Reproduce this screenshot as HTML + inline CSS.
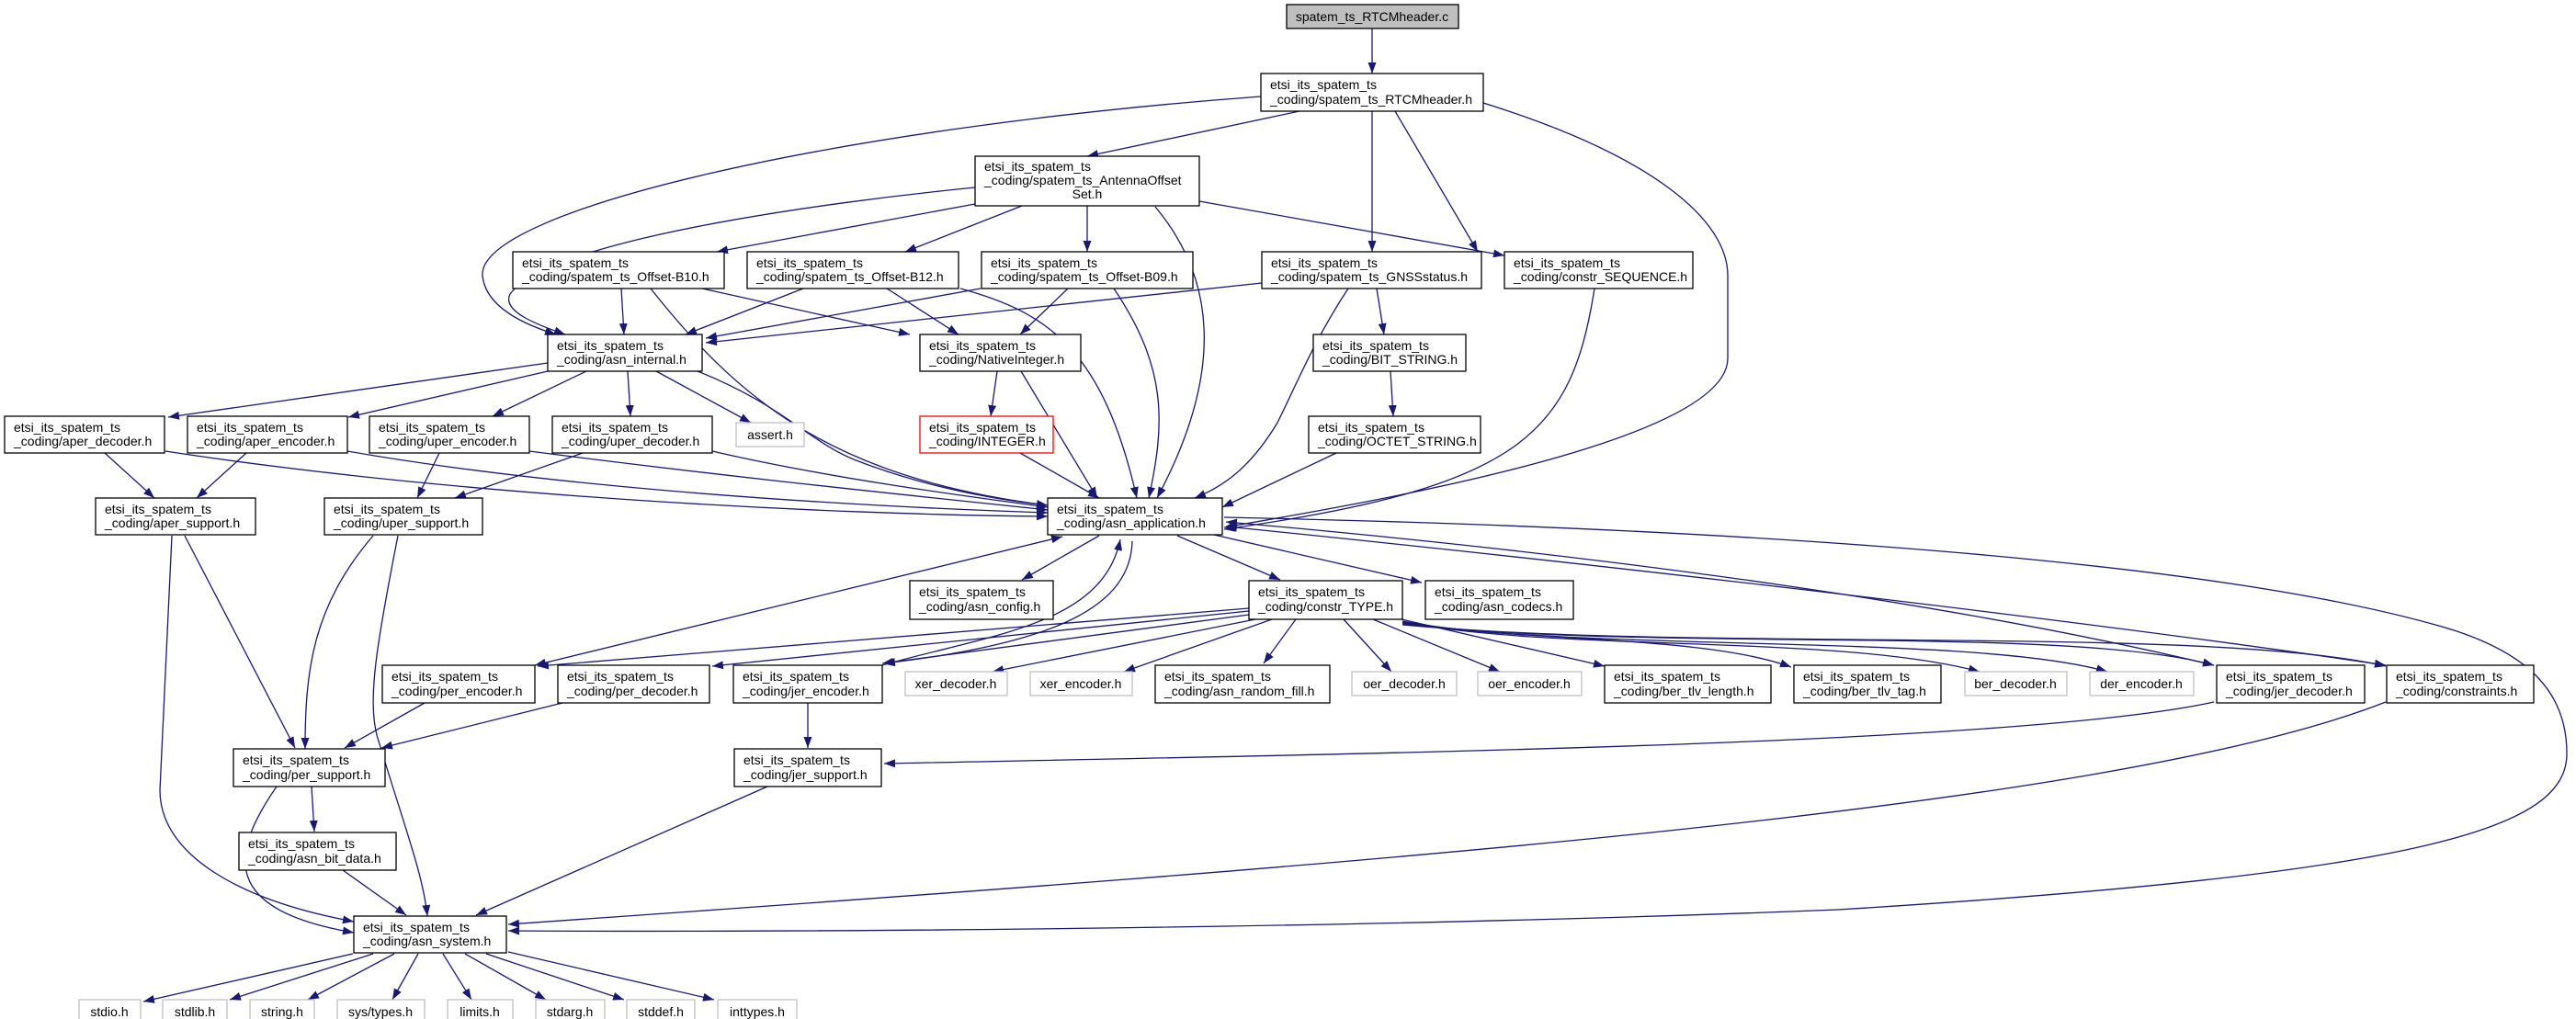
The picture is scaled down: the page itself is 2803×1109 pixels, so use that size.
<!DOCTYPE html>
<html><head><meta charset="utf-8"><style>
html,body{margin:0;padding:0;background:#fff}
svg{display:block}
.n{fill:#fff;stroke:#000;stroke-width:1.3}
.g{fill:#fff;stroke:#bfbfbf;stroke-width:1.3}
.r{fill:#fff;stroke:#ff0000;stroke-width:1.3}
text{font-family:"Liberation Sans",sans-serif;font-size:14px;fill:#000}
.e{fill:none;stroke:#191970;stroke-width:1.3;marker-end:url(#a)}
.b{marker-start:url(#s)}
</style></head><body>
<svg width="2803" height="1109" viewBox="0 0 2803 1109" xmlns="http://www.w3.org/2000/svg">
<defs>
<marker id="a" markerWidth="12" markerHeight="9" refX="12" refY="4.5" orient="auto" markerUnits="userSpaceOnUse"><path d="M0,0L12,4.5L0,9z" fill="#191970"/></marker>
<marker id="s" markerWidth="12" markerHeight="9" refX="0" refY="4.5" orient="auto" markerUnits="userSpaceOnUse"><path d="M12,0L0,4.5L12,9z" fill="#191970"/></marker>
</defs>
<path class="e" d="M1493,31L1493,80"/>
<path class="e" d="M1372,105C900,140 520,230 525,300C528,330 560,350 605,364"/>
<path class="e" d="M1414,121L1183,170"/>
<path class="e" d="M1493,121L1493,274"/>
<path class="e" d="M1518,121L1608,274"/>
<path class="e" d="M1614,112C1800,170 1880,240 1880,300L1880,390C1880,480 1500,545 1332,574"/>
<path class="e" d="M1061,204C900,220 600,260 555,320C545,340 590,355 615,364"/>
<path class="e" d="M1061,222L780,274"/>
<path class="e" d="M1112,224L985,274"/>
<path class="e" d="M1183,224L1183,274"/>
<path class="e" d="M1305,219L1637,278"/>
<path class="e" d="M1257,225C1320,300 1335,400 1259,542"/>
<path class="e" d="M676,314L679,364"/>
<path class="e" d="M708,314C800,430 900,520 1140,550"/>
<path class="e" d="M764,314L990,364"/>
<path class="e" d="M874,314L746,364"/>
<path class="e" d="M965,314L1043,364"/>
<path class="e" d="M1045,314C1140,340 1200,380 1237,542"/>
<path class="e" d="M1067,314L768,368"/>
<path class="e" d="M1162,314L1110,364"/>
<path class="e" d="M1212,314C1270,400 1268,460 1250,542"/>
<path class="e" d="M1373,308L768,373"/>
<path class="e" d="M1498,314L1506,364"/>
<path class="e" d="M1467,314C1430,370 1410,420 1390,460C1360,510 1330,530 1300,542"/>
<path class="e" d="M1735,314C1710,470 1660,530 1332,576"/>
<path class="e" d="M596,395L183,454"/>
<path class="e" d="M596,404L379,454"/>
<path class="e" d="M638,404L536,453"/>
<path class="e" d="M683,404L686,453"/>
<path class="e" d="M714,404L817,460"/>
<path class="e" d="M759,404C850,440 880,480 929,500C980,520 1050,540 1140,550"/>
<path class="e" d="M1085,404L1078,453"/>
<path class="e" d="M1111,404L1194,542"/>
<path class="e" d="M1110,493L1196,542"/>
<path class="e" d="M1513,404L1516,453"/>
<path class="e" d="M1454,493L1330,552"/>
<path class="e" d="M114,493L168,542"/>
<path class="e" d="M268,493L214,542"/>
<path class="e" d="M478,493L454,542"/>
<path class="e" d="M634,493L495,542"/>
<path class="e" d="M180,491C500,540 900,560 1140,562"/>
<path class="e" d="M378,491C600,530 900,550 1140,558"/>
<path class="e" d="M576,491C800,520 1000,540 1140,555"/>
<path class="e" d="M775,491C900,520 1050,540 1140,552"/>
<path class="e" d="M201,583L321,814"/>
<path class="e" d="M187,583L174,860C174,930 260,980 385,1003"/>
<path class="e" d="M406,583C340,660 332,730 332,815"/>
<path class="e" d="M433,583C410,700 400,760 410,800C440,900 460,950 465,997"/>
<path class="e" d="M1196,583L1112,631"/>
<path class="e" d="M1281,583L1393,631"/>
<path class="e" d="M1321,582L1547,634"/>
<path class="e" d="M1332,563C1900,575 2400,610 2650,680C2760,710 2793,760 2793,820C2793,900 2650,950 2000,990C1500,1010 900,1015 553,1013"/>
<path class="e b" d="M1334,568C1700,600 2100,650 2409,724"/>
<path class="e b" d="M1334,573C1800,620 2300,680 2596,724"/>
<path class="e b" d="M1156,584L582,724"/>
<path class="e" d="M1359,662L585,725"/>
<path class="e" d="M1359,665L775,725"/>
<path class="e" d="M1359,669L960,722"/>
<path class="e" d="M1366,674L1080,731"/>
<path class="e" d="M1384,674L1223,731"/>
<path class="e" d="M1410,674L1375,722"/>
<path class="e" d="M1462,674L1514,731"/>
<path class="e" d="M1494,674L1632,731"/>
<path class="e" d="M1525,674L1746,725"/>
<path class="e" d="M1526,676C1650,700 1850,690 1949,726"/>
<path class="e" d="M1526,677C1700,710 2000,690 2154,731"/>
<path class="e" d="M1526,678C1750,710 2150,690 2293,731"/>
<path class="e" d="M1526,679C1800,710 2250,680 2409,724"/>
<path class="e" d="M1526,680C1850,710 2400,680 2596,725"/>
<path class="e" d="M960,724C1080,690 1200,680 1219,587"/>
<path class="e" d="M1232,589C1230,660 1150,700 962,722"/>
<path class="e" d="M462,765L375,814"/>
<path class="e" d="M612,765L415,814"/>
<path class="e" d="M879,765L879,814"/>
<path class="e" d="M2409,764C2200,810 1500,820 962,831"/>
<path class="e" d="M2596,764C2300,880 1500,940 553,1006"/>
<path class="e" d="M339,856L342,905"/>
<path class="e" d="M301,856C250,930 240,990 385,1015"/>
<path class="e" d="M373,947L442,996"/>
<path class="e" d="M835,856L518,996"/>
<path class="e" d="M384,1038L156,1090"/>
<path class="e" d="M406,1038L250,1088"/>
<path class="e" d="M429,1038L335,1088"/>
<path class="e" d="M455,1038L427,1088"/>
<path class="e" d="M482,1038L513,1088"/>
<path class="e" d="M506,1038L594,1088"/>
<path class="e" d="M529,1038L679,1088"/>
<path class="e" d="M553,1036L777,1088"/>

<rect x="1400" y="5" width="187" height="26" fill="#bfbfbf" stroke="#000" stroke-width="1.3"/>
<text x="1493" y="23" text-anchor="middle">spatem_ts_RTCMheader.c</text>
<rect class="n" x="1372" y="80" width="242" height="41"/>
<text x="1382" y="97">etsi_its_spatem_ts</text><text x="1382" y="113">_coding/spatem_ts_RTCMheader.h</text>
<rect class="n" x="1061" y="170" width="244" height="54"/>
<text x="1071" y="186">etsi_its_spatem_ts</text><text x="1071" y="201">_coding/spatem_ts_AntennaOffset</text><text x="1183" y="216" text-anchor="middle">Set.h</text>
<rect class="n" x="558" y="274" width="230" height="40"/>
<text x="568" y="291">etsi_its_spatem_ts</text><text x="568" y="306">_coding/spatem_ts_Offset-B10.h</text>
<rect class="n" x="813" y="274" width="230" height="40"/>
<text x="823" y="291">etsi_its_spatem_ts</text><text x="823" y="306">_coding/spatem_ts_Offset-B12.h</text>
<rect class="n" x="1068" y="274" width="230" height="40"/>
<text x="1078" y="291">etsi_its_spatem_ts</text><text x="1078" y="306">_coding/spatem_ts_Offset-B09.h</text>
<rect class="n" x="1373" y="274" width="239" height="40"/>
<text x="1383" y="291">etsi_its_spatem_ts</text><text x="1383" y="306">_coding/spatem_ts_GNSSstatus.h</text>
<rect class="n" x="1637" y="274" width="205" height="40"/>
<text x="1647" y="291">etsi_its_spatem_ts</text><text x="1647" y="306">_coding/constr_SEQUENCE.h</text>
<rect class="n" x="596" y="364" width="168" height="40"/>
<text x="606" y="381">etsi_its_spatem_ts</text><text x="606" y="396">_coding/asn_internal.h</text>
<rect class="n" x="1001" y="364" width="175" height="40"/>
<text x="1011" y="381">etsi_its_spatem_ts</text><text x="1011" y="396">_coding/NativeInteger.h</text>
<rect class="n" x="1429" y="364" width="166" height="40"/>
<text x="1439" y="381">etsi_its_spatem_ts</text><text x="1439" y="396">_coding/BIT_STRING.h</text>
<rect class="n" x="5" y="453" width="174" height="40"/>
<text x="15" y="470">etsi_its_spatem_ts</text><text x="15" y="485">_coding/aper_decoder.h</text>
<rect class="n" x="204" y="453" width="174" height="40"/>
<text x="214" y="470">etsi_its_spatem_ts</text><text x="214" y="485">_coding/aper_encoder.h</text>
<rect class="n" x="402" y="453" width="174" height="40"/>
<text x="412" y="470">etsi_its_spatem_ts</text><text x="412" y="485">_coding/uper_encoder.h</text>
<rect class="n" x="601" y="453" width="174" height="40"/>
<text x="611" y="470">etsi_its_spatem_ts</text><text x="611" y="485">_coding/uper_decoder.h</text>
<rect class="g" x="801" y="460" width="74" height="26"/>
<text x="838" y="478" text-anchor="middle">assert.h</text>
<rect class="r" x="1001" y="453" width="145" height="40"/>
<text x="1011" y="470">etsi_its_spatem_ts</text><text x="1011" y="485">_coding/INTEGER.h</text>
<rect class="n" x="1424" y="453" width="187" height="40"/>
<text x="1434" y="470">etsi_its_spatem_ts</text><text x="1434" y="485">_coding/OCTET_STRING.h</text>
<rect class="n" x="104" y="542" width="174" height="40"/>
<text x="114" y="559">etsi_its_spatem_ts</text><text x="114" y="574">_coding/aper_support.h</text>
<rect class="n" x="353" y="542" width="172" height="40"/>
<text x="363" y="559">etsi_its_spatem_ts</text><text x="363" y="574">_coding/uper_support.h</text>
<rect class="n" x="1140" y="542" width="190" height="40"/>
<text x="1150" y="559">etsi_its_spatem_ts</text><text x="1150" y="574">_coding/asn_application.h</text>
<rect class="n" x="990" y="632" width="156" height="42"/>
<text x="1000" y="649">etsi_its_spatem_ts</text><text x="1000" y="665">_coding/asn_config.h</text>
<rect class="n" x="1359" y="632" width="167" height="42"/>
<text x="1369" y="649">etsi_its_spatem_ts</text><text x="1369" y="665">_coding/constr_TYPE.h</text>
<rect class="n" x="1551" y="632" width="161" height="42"/>
<text x="1561" y="649">etsi_its_spatem_ts</text><text x="1561" y="665">_coding/asn_codecs.h</text>
<rect class="n" x="416" y="724" width="166" height="41"/>
<text x="426" y="741">etsi_its_spatem_ts</text><text x="426" y="757">_coding/per_encoder.h</text>
<rect class="n" x="607" y="724" width="165" height="41"/>
<text x="617" y="741">etsi_its_spatem_ts</text><text x="617" y="757">_coding/per_decoder.h</text>
<rect class="n" x="798" y="724" width="162" height="41"/>
<text x="808" y="741">etsi_its_spatem_ts</text><text x="808" y="757">_coding/jer_encoder.h</text>
<rect class="g" x="985" y="731" width="111" height="26"/>
<text x="1040" y="749" text-anchor="middle">xer_decoder.h</text>
<rect class="g" x="1121" y="731" width="111" height="26"/>
<text x="1176" y="749" text-anchor="middle">xer_encoder.h</text>
<rect class="n" x="1257" y="724" width="190" height="41"/>
<text x="1267" y="741">etsi_its_spatem_ts</text><text x="1267" y="757">_coding/asn_random_fill.h</text>
<rect class="g" x="1471" y="731" width="114" height="26"/>
<text x="1528" y="749" text-anchor="middle">oer_decoder.h</text>
<rect class="g" x="1608" y="731" width="113" height="26"/>
<text x="1664" y="749" text-anchor="middle">oer_encoder.h</text>
<rect class="n" x="1746" y="724" width="181" height="41"/>
<text x="1756" y="741">etsi_its_spatem_ts</text><text x="1756" y="757">_coding/ber_tlv_length.h</text>
<rect class="n" x="1952" y="724" width="160" height="41"/>
<text x="1962" y="741">etsi_its_spatem_ts</text><text x="1962" y="757">_coding/ber_tlv_tag.h</text>
<rect class="g" x="2138" y="731" width="111" height="26"/>
<text x="2193" y="749" text-anchor="middle">ber_decoder.h</text>
<rect class="g" x="2274" y="731" width="113" height="26"/>
<text x="2330" y="749" text-anchor="middle">der_encoder.h</text>
<rect class="n" x="2412" y="724" width="161" height="41"/>
<text x="2422" y="741">etsi_its_spatem_ts</text><text x="2422" y="757">_coding/jer_decoder.h</text>
<rect class="n" x="2597" y="724" width="160" height="41"/>
<text x="2607" y="741">etsi_its_spatem_ts</text><text x="2607" y="757">_coding/constraints.h</text>
<rect class="n" x="254" y="815" width="165" height="41"/>
<text x="264" y="832">etsi_its_spatem_ts</text><text x="264" y="848">_coding/per_support.h</text>
<rect class="n" x="799" y="815" width="160" height="41"/>
<text x="809" y="832">etsi_its_spatem_ts</text><text x="809" y="848">_coding/jer_support.h</text>
<rect class="n" x="260" y="906" width="171" height="41"/>
<text x="270" y="923">etsi_its_spatem_ts</text><text x="270" y="939">_coding/asn_bit_data.h</text>
<rect class="n" x="385" y="997" width="166" height="40"/>
<text x="395" y="1014">etsi_its_spatem_ts</text><text x="395" y="1029">_coding/asn_system.h</text>
<rect class="g" x="86" y="1088" width="67" height="26"/><text x="119" y="1106" text-anchor="middle">stdio.h</text>
<rect class="g" x="177" y="1088" width="70" height="26"/><text x="212" y="1106" text-anchor="middle">stdlib.h</text>
<rect class="g" x="272" y="1088" width="70" height="26"/><text x="307" y="1106" text-anchor="middle">string.h</text>
<rect class="g" x="367" y="1088" width="95" height="26"/><text x="414" y="1106" text-anchor="middle">sys/types.h</text>
<rect class="g" x="487" y="1088" width="71" height="26"/><text x="522" y="1106" text-anchor="middle">limits.h</text>
<rect class="g" x="583" y="1088" width="75" height="26"/><text x="620" y="1106" text-anchor="middle">stdarg.h</text>
<rect class="g" x="682" y="1088" width="74" height="26"/><text x="719" y="1106" text-anchor="middle">stddef.h</text>
<rect class="g" x="781" y="1088" width="86" height="26"/><text x="824" y="1106" text-anchor="middle">inttypes.h</text>
</svg>
</body></html>
